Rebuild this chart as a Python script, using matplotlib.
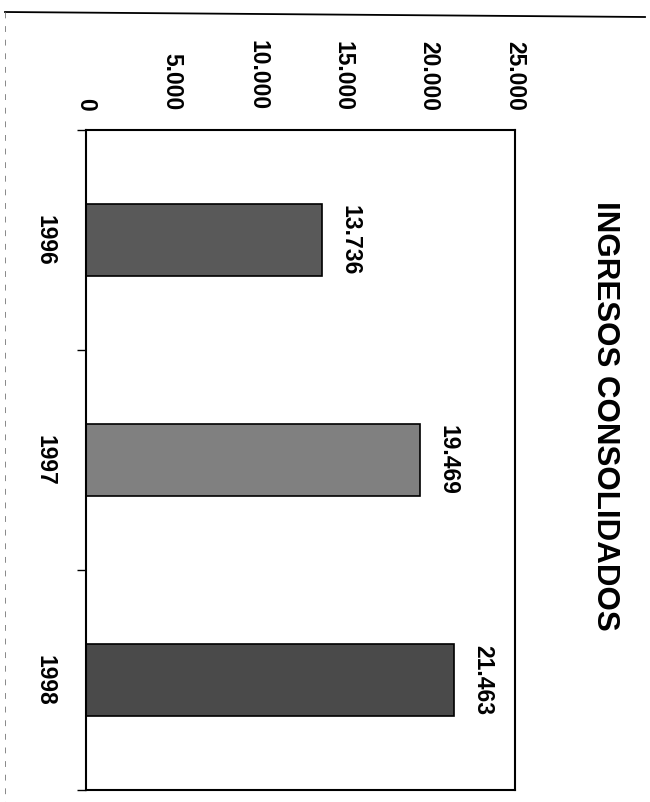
import matplotlib
matplotlib.use("Agg")
import matplotlib.pyplot as plt
from matplotlib.lines import Line2D

# data
years = ["1996", "1997", "1998"]
ingresos = [13736, 19469, 21463]
xticks = [0, 5000, 10000, 15000, 20000, 25000]
bar_colors = ["#595959", "#808080", "#4a4a4a"]

plt.rcParams["font.family"] = ["Liberation Sans", "DejaVu Sans"]
plt.rcParams["font.weight"] = "bold"

W, H = 650, 802
fig = plt.figure(figsize=(W / 100, H / 100), dpi=100)

# plot frame in pixel units
left, right, top, bottom = 86, 515, 130, 790
ax = fig.add_axes([left / W, 1 - bottom / H, (right - left) / W, (bottom - top) / H])

pos = list(range(len(years)))
bars = ax.barh(pos, ingresos, height=0.33, color=bar_colors, edgecolor="black", linewidth=1.2)

def miles(v):
    return f"{v:,}".replace(",", ".")

ax.bar_label(bars, labels=[miles(v) for v in ingresos], rotation=-90,
             padding=12, fontsize=16.5, fontweight="bold")

ax.set_xlim(0, 25000)
ax.set_ylim(2.5, -0.5)

# value axis on top, labels rotated like the scan
ax.xaxis.tick_top()
ax.set_xticks(xticks)
ax.set_xticklabels([miles(v) for v in xticks], rotation=-90, fontsize=16.5, fontweight="bold")
ax.tick_params(axis="x", length=0, pad=14)

# category axis
ax.set_yticks(pos)
ax.set_yticklabels(years, rotation=-90, fontsize=16.5, fontweight="bold", va="center")
ax.set_yticks([-0.5, 0.5, 1.5, 2.5], minor=True)
ax.tick_params(axis="y", which="major", length=0, pad=21)
ax.tick_params(axis="y", which="minor", length=6.5, width=1, direction="out")

for s in ax.spines.values():
    s.set_linewidth(1.5)
    s.set_color("black")

fig.text(605 / W, 1 - 415.5 / H, "INGRESOS CONSOLIDADOS", rotation=-90,
         ha="center", va="center", fontsize=22.5, fontweight="bold")

# chart area border from the scan
fig.add_artist(Line2D([5 / W, 645 / W], [1 - 12 / H, 1 - 17 / H], color="black", linewidth=1.3))
fig.add_artist(Line2D([5 / W, 5 / W], [1 - 12 / H, 0], color="#888888", linewidth=0.7,
                      linestyle=(0, (6, 8))))

fig.savefig("out.png", dpi=100)
